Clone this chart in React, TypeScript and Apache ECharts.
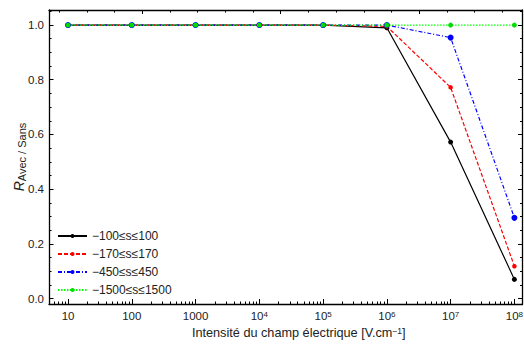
import React, { useEffect, useRef } from "react";
import * as echarts from "echarts";

const xValues = [10, 100, 1000, 1e4, 1e5, 1e6, 1e7, 1e8];
const seriesNames = ["−100≤s≤100", "−170≤s≤170", "−450≤s≤450", "−1500≤s≤1500"];
const blackValues = [1, 1, 1, 1, 1, 0.99, 0.572, 0.07];
const redValues = [1, 1, 1, 1, 1, 0.995, 0.772, 0.118];
const blueValues = [1, 1, 1, 1, 1, 1.0, 0.954, 0.295];
const greenValues = [1, 1, 1, 1, 1, 1, 1, 1];
const xMajorTicks = [10, 100, 1000, 1e4, 1e5, 1e6, 1e7, 1e8];
const yMajorTicks = [0, 0.2, 0.4, 0.6, 0.8, 1.0];

const FONT = "Liberation Sans";

export default function App() {
  const ref = useRef<HTMLDivElement>(null);
  useEffect(() => {
    if (!ref.current) return;
    const chart = echarts.init(ref.current, null, { renderer: "svg" });

    const xMinor: number[] = [];
    for (let e = 0; e <= 8; e++) {
      for (let k = 2; k <= 9; k++) {
        const v = k * Math.pow(10, e);
        if (v > 5.03 && v < 1.34e8) xMinor.push(v);
      }
    }
    const yMinor: number[] = [];
    for (let i = 0; i <= 21; i++) yMinor.push(+(i * 0.05).toFixed(2));
    const topMinor: number[] = [];
    for (let i = -3; i <= 13; i++) topMinor.push(i);

    const mk = (vals: number[]) => xValues.map((x, i) => [x, vals[i]]);
    const axisLineStyle = { color: "#000", width: 1.3 };
    const frameLine = { show: true, onZero: false, lineStyle: axisLineStyle };
    const hiddenLine = { show: false, onZero: false };
    const tickStyle = { color: "#000", width: 1 };

    const option: any = {
      animation: false,
      grid: { left: 49, right: 1.5, top: 10, bottom: 41, containLabel: false, outerBoundsMode: "none" },
      xAxis: [
        {
          type: "log",
          logBase: 10,
          min: 5.03,
          max: 1.34e8,
          position: "bottom",
          axisLine: frameLine,
          axisTick: { show: true, inside: true, length: 5, customValues: xMajorTicks, lineStyle: tickStyle },
          axisLabel: {
            show: true,
            customValues: xMajorTicks,
            color: "#222",
            fontFamily: FONT,
            fontSize: 11.5,
            margin: 6,
            formatter: (v: number) => {
              const e = Math.round(Math.log10(v));
              if (e <= 3) return String(Math.round(v));
              return `10{sup|${e}}`;
            },
            rich: {
              sup: { fontSize: 8, fontFamily: FONT, color: "#222", verticalAlign: "top", lineHeight: 9 },
            },
          },
          splitLine: { show: false },
          name: "Intensité du champ électrique [V.cm{sup|−1}]",
          nameLocation: "middle",
          nameGap: 22,
          nameMoveOverlap: false,
          nameTextStyle: {
            color: "#222",
            fontFamily: FONT,
            fontSize: 12.7,
            padding: [0, 0, 0, 26],
            rich: { sup: { fontSize: 8.5, fontFamily: FONT, color: "#222", verticalAlign: "top", lineHeight: 9 } },
          },
        },
        {
          type: "log",
          logBase: 10,
          min: 5.03,
          max: 1.34e8,
          position: "bottom",
          axisLine: hiddenLine,
          axisTick: { show: true, inside: true, length: 2.5, customValues: xMinor, lineStyle: tickStyle },
          axisLabel: { show: false },
          splitLine: { show: false },
        },
        {
          type: "value",
          min: -3.368,
          max: 13.73,
          position: "top",
          axisLine: frameLine,
          axisTick: { show: true, inside: true, length: 2.5, customValues: topMinor, lineStyle: tickStyle },
          axisLabel: { show: false },
          splitLine: { show: false },
        },
        {
          type: "value",
          min: -3.368,
          max: 13.73,
          position: "top",
          axisLine: hiddenLine,
          axisTick: { show: true, inside: true, length: 4, customValues: [0, 5, 10], lineStyle: tickStyle },
          axisLabel: { show: false },
          splitLine: { show: false },
        },
      ],
      yAxis: [
        {
          type: "value",
          min: -0.02,
          max: 1.055,
          position: "left",
          axisLine: frameLine,
          axisTick: { show: true, inside: true, length: 4.5, customValues: yMajorTicks, lineStyle: tickStyle },
          axisLabel: {
            show: true,
            customValues: yMajorTicks,
            color: "#222",
            fontFamily: FONT,
            fontSize: 11.5,
            margin: 5,
            formatter: (v: number) => v.toFixed(1),
          },
          splitLine: { show: false },
          name: "{r|R}{s|Avec / Sans}",
          nameLocation: "middle",
          nameRotate: 90,
          nameGap: 22,
          nameMoveOverlap: false,
          nameTextStyle: {
            rich: {
              r: { fontSize: 14, fontStyle: "italic", fontFamily: FONT, color: "#222", lineHeight: 16 },
              s: { fontSize: 11, fontFamily: FONT, color: "#222", verticalAlign: "bottom", lineHeight: 12 },
            },
          },
        },
        {
          type: "value",
          min: -0.02,
          max: 1.055,
          position: "left",
          axisLine: hiddenLine,
          axisTick: { show: true, inside: true, length: 2.5, customValues: yMinor, lineStyle: tickStyle },
          axisLabel: { show: false },
          splitLine: { show: false },
        },
        {
          type: "value",
          min: -0.02,
          max: 1.055,
          position: "right",
          axisLine: frameLine,
          axisTick: { show: true, inside: true, length: 2.5, customValues: yMinor, lineStyle: tickStyle },
          axisLabel: { show: false },
          splitLine: { show: false },
        },
        {
          type: "value",
          min: -0.02,
          max: 1.055,
          position: "right",
          axisLine: hiddenLine,
          axisTick: { show: true, inside: true, length: 4.5, customValues: yMajorTicks, lineStyle: tickStyle },
          axisLabel: { show: false },
          splitLine: { show: false },
        },
      ],
      legend: {
        orient: "vertical",
        left: 57,
        top: 229,
        itemWidth: 29,
        itemHeight: 5,
        itemGap: 4,
        padding: 0,
        textStyle: { fontFamily: FONT, fontSize: 12, color: "#222", lineHeight: 14 },
        data: seriesNames,
      },
      series: [
        {
          name: seriesNames[0],
          type: "line",
          data: mk(blackValues),
          symbol: "circle",
          symbolSize: 5,
          itemStyle: { color: "#000" },
          lineStyle: { color: "#000", width: 1.2, type: "solid" },
        },
        {
          name: seriesNames[1],
          type: "line",
          data: mk(redValues),
          symbol: "circle",
          symbolSize: 4.5,
          itemStyle: { color: "#ff0000" },
          lineStyle: { color: "#ff0000", width: 1.2, type: [4, 2] },
        },
        {
          name: seriesNames[2],
          type: "line",
          data: mk(blueValues),
          symbol: "circle",
          symbolSize: 6,
          itemStyle: { color: "#0000ff" },
          lineStyle: { color: "#0000ff", width: 1.2, type: [4, 2, 1, 2] },
        },
        {
          name: seriesNames[3],
          type: "line",
          data: mk(greenValues),
          symbol: "circle",
          symbolSize: 5,
          itemStyle: { color: "#00dd00" },
          lineStyle: { color: "#00ff00", width: 1.3, type: [1.5, 1.5] },
        },
      ],
    };
    chart.setOption(option);
    return () => chart.dispose();
  }, []);
  return (
    <div
      ref={ref}
      style={{ position: "fixed", left: 0, top: 0, width: 524, height: 345, background: "#fff" }}
    />
  );
}
